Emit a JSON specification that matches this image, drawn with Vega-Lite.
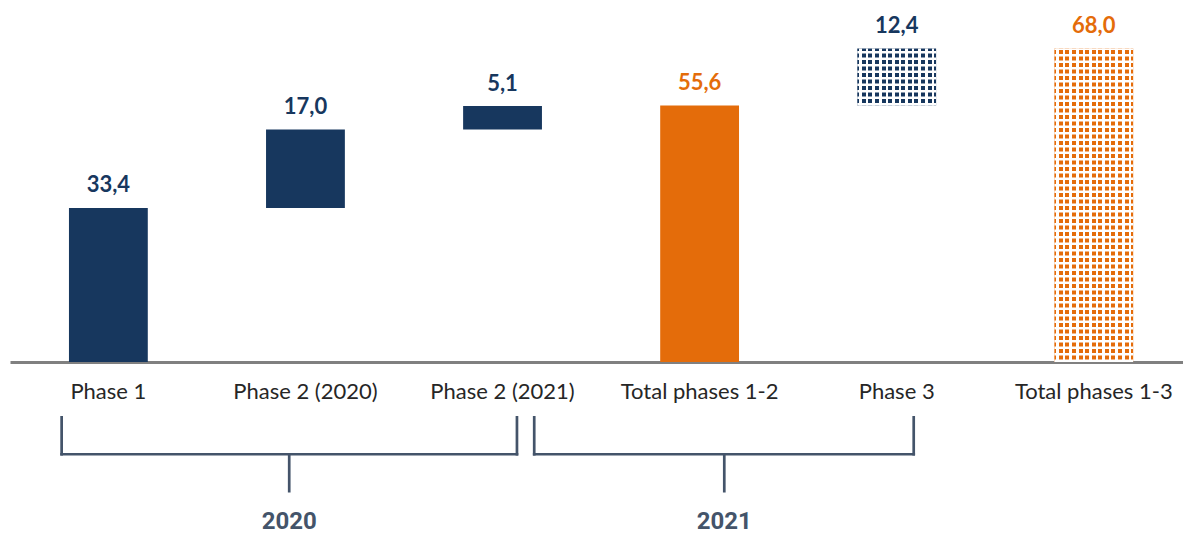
{
  "$schema": "https://vega.github.io/schema/vega-lite/v6.json",
  "width": 1173,
  "height": 362,
  "autosize": {"type": "none"},
  "padding": {"left": 10, "top": 0, "right": 0, "bottom": 172},
  "background": "#ffffff",
  "config": {"view": {"stroke": null}},
  "layer": [
    {
      "data": {
        "values": [
          {"phase": "Phase 1", "start": 0, "end": 33.4, "label": "33,4", "type": "Increment", "status": "committed"},
          {"phase": "Phase 2 (2020)", "start": 33.4, "end": 50.4, "label": "17,0", "type": "Increment", "status": "committed"},
          {"phase": "Phase 2 (2021)", "start": 50.4, "end": 55.5, "label": "5,1", "type": "Increment", "status": "committed"},
          {"phase": "Total phases 1-2", "start": 0, "end": 55.6, "label": "55,6", "type": "Total", "status": "committed"},
          {"phase": "Phase 3", "start": 55.6, "end": 68.0, "label": "12,4", "type": "Increment", "status": "planned"},
          {"phase": "Total phases 1-3", "start": 0, "end": 68.0, "label": "68,0", "type": "Total", "status": "planned"}
        ]
      },
      "encoding": {
        "x": {
          "field": "phase",
          "type": "nominal",
          "sort": null,
          "title": null,
          "scale": {
            "domain": ["Phase 1", "Phase 2 (2020)", "Phase 2 (2021)", "Total phases 1-2", "Phase 3", "Total phases 1-3"],
            "paddingInner": 0.6,
            "paddingOuter": 0.276,
            "align": 0.542
          },
          "axis": {
            "title": null,
            "ticks": false,
            "tickSize": 0,
            "labelAngle": 0,
            "labelFont": "Lato",
            "labelFontSize": 22,
            "labelColor": "#262626",
            "labelBaseline": "alphabetic",
            "labelPadding": 36,
            "domainColor": "#808080",
            "domainWidth": 3,
            "grid": false
          }
        }
      },
      "layer": [
        {
          "mark": {"type": "bar"},
          "encoding": {
            "y": {"field": "start", "type": "quantitative", "scale": {"domain": [0, 78.5], "nice": false, "zero": false}, "axis": null},
            "y2": {"field": "end"},
            "color": {"field": "type", "type": "nominal", "scale": {"domain": ["Increment", "Total"], "range": ["#17375E", "#E46C0A"]}, "legend": null}
          }
        },
        {
          "transform": [{"filter": "datum.status === 'planned'"}],
          "mark": {
            "type": "bar",
            "fill": {
              "gradient": "linear",
              "x1": 0, "y1": 0, "x2": 1, "y2": 0,
              "stops": [
                {"offset": 0, "color": "rgba(255,255,255,0)"},
                {"offset": 0.0252, "color": "rgba(255,255,255,0)"}, {"offset": 0.0252, "color": "#ffffff"}, {"offset": 0.0582, "color": "#ffffff"}, {"offset": 0.0582, "color": "rgba(255,255,255,0)"},
                {"offset": 0.1085, "color": "rgba(255,255,255,0)"}, {"offset": 0.1085, "color": "#ffffff"}, {"offset": 0.1415, "color": "#ffffff"}, {"offset": 0.1415, "color": "rgba(255,255,255,0)"},
                {"offset": 0.1919, "color": "rgba(255,255,255,0)"}, {"offset": 0.1919, "color": "#ffffff"}, {"offset": 0.2249, "color": "#ffffff"}, {"offset": 0.2249, "color": "rgba(255,255,255,0)"},
                {"offset": 0.2752, "color": "rgba(255,255,255,0)"}, {"offset": 0.2752, "color": "#ffffff"}, {"offset": 0.3082, "color": "#ffffff"}, {"offset": 0.3082, "color": "rgba(255,255,255,0)"},
                {"offset": 0.3585, "color": "rgba(255,255,255,0)"}, {"offset": 0.3585, "color": "#ffffff"}, {"offset": 0.3915, "color": "#ffffff"}, {"offset": 0.3915, "color": "rgba(255,255,255,0)"},
                {"offset": 0.4419, "color": "rgba(255,255,255,0)"}, {"offset": 0.4419, "color": "#ffffff"}, {"offset": 0.4749, "color": "#ffffff"}, {"offset": 0.4749, "color": "rgba(255,255,255,0)"},
                {"offset": 0.5252, "color": "rgba(255,255,255,0)"}, {"offset": 0.5252, "color": "#ffffff"}, {"offset": 0.5582, "color": "#ffffff"}, {"offset": 0.5582, "color": "rgba(255,255,255,0)"},
                {"offset": 0.6085, "color": "rgba(255,255,255,0)"}, {"offset": 0.6085, "color": "#ffffff"}, {"offset": 0.6415, "color": "#ffffff"}, {"offset": 0.6415, "color": "rgba(255,255,255,0)"},
                {"offset": 0.6919, "color": "rgba(255,255,255,0)"}, {"offset": 0.6919, "color": "#ffffff"}, {"offset": 0.7249, "color": "#ffffff"}, {"offset": 0.7249, "color": "rgba(255,255,255,0)"},
                {"offset": 0.7752, "color": "rgba(255,255,255,0)"}, {"offset": 0.7752, "color": "#ffffff"}, {"offset": 0.8082, "color": "#ffffff"}, {"offset": 0.8082, "color": "rgba(255,255,255,0)"},
                {"offset": 0.8585, "color": "rgba(255,255,255,0)"}, {"offset": 0.8585, "color": "#ffffff"}, {"offset": 0.8915, "color": "#ffffff"}, {"offset": 0.8915, "color": "rgba(255,255,255,0)"},
                {"offset": 0.9419, "color": "rgba(255,255,255,0)"}, {"offset": 0.9419, "color": "#ffffff"}, {"offset": 0.9749, "color": "#ffffff"}, {"offset": 0.9749, "color": "rgba(255,255,255,0)"},
                {"offset": 1, "color": "rgba(255,255,255,0)"}
              ]
            }
          },
          "encoding": {
            "y": {"field": "start", "type": "quantitative", "scale": {"domain": [0, 78.5], "nice": false, "zero": false}},
            "y2": {"field": "end"}
          }
        },
        {
          "transform": [{"filter": "datum.status === 'planned'"}],
          "mark": {"type": "rule", "stroke": "#ffffff", "strokeWidth": 78.8, "strokeDash": [2.6, 3.9], "strokeCap": "butt"},
          "encoding": {
            "y": {"field": "start", "type": "quantitative", "scale": {"domain": [0, 78.5], "nice": false, "zero": false}},
            "y2": {"field": "end"}
          }
        },
        {
          "mark": {"type": "text", "font": "Lato", "fontSize": 22, "fontWeight": "bold", "baseline": "alphabetic", "align": "center", "dy": -15.5},
          "encoding": {
            "y": {"field": "end", "type": "quantitative", "scale": {"domain": [0, 78.5], "nice": false, "zero": false}},
            "text": {"field": "label"},
            "color": {"field": "type", "type": "nominal", "legend": null}
          }
        }
      ]
    },
    {
      "data": {"values": [{"year": "2020", "first": "Phase 1", "middle": "Phase 2 (2020)", "last": "Phase 2 (2021)"}]},
      "layer": [
        {
          "mark": {"type": "rule", "stroke": "#44546A", "strokeWidth": 2.7, "strokeCap": "square"},
          "encoding": {
            "x": {"field": "first", "type": "nominal", "bandPosition": -0.093, "title": null},
            "x2": {"field": "last", "bandPosition": 0.683},
            "y": {"datum": -20}
          }
        },
        {
          "mark": {"type": "rule", "stroke": "#44546A", "strokeWidth": 2.7, "strokeCap": "square"},
          "encoding": {
            "x": {"field": "first", "type": "nominal", "bandPosition": -0.093, "title": null},
            "y": {"datum": -12},
            "y2": {"datum": -20}
          }
        },
        {
          "mark": {"type": "rule", "stroke": "#44546A", "strokeWidth": 2.7, "strokeCap": "square"},
          "encoding": {
            "x": {"field": "last", "type": "nominal", "bandPosition": 0.683, "title": null},
            "y": {"datum": -12},
            "y2": {"datum": -20}
          }
        },
        {
          "mark": {"type": "rule", "stroke": "#44546A", "strokeWidth": 2.7, "strokeCap": "butt"},
          "encoding": {
            "x": {"field": "middle", "type": "nominal", "bandPosition": 0.294, "title": null},
            "y": {"datum": -20},
            "y2": {"datum": -28.3}
          }
        },
        {
          "mark": {"type": "text", "font": "Roboto", "fontSize": 24, "fontWeight": "bold", "fill": "#44546A", "baseline": "middle", "align": "center"},
          "encoding": {
            "x": {"field": "middle", "type": "nominal", "bandPosition": 0.294, "title": null},
            "y": {"datum": -34.7},
            "text": {"field": "year"}
          }
        }
      ]
    },
    {
      "data": {"values": [{"year": "2021", "first": "Phase 2 (2021)", "middle": "Total phases 1-2", "last": "Phase 3"}]},
      "layer": [
        {
          "mark": {"type": "rule", "stroke": "#44546A", "strokeWidth": 2.7, "strokeCap": "square"},
          "encoding": {
            "x": {"field": "first", "type": "nominal", "bandPosition": 0.902, "title": null},
            "x2": {"field": "last", "bandPosition": 0.716},
            "y": {"datum": -20}
          }
        },
        {
          "mark": {"type": "rule", "stroke": "#44546A", "strokeWidth": 2.7, "strokeCap": "square"},
          "encoding": {
            "x": {"field": "first", "type": "nominal", "bandPosition": 0.902, "title": null},
            "y": {"datum": -12},
            "y2": {"datum": -20}
          }
        },
        {
          "mark": {"type": "rule", "stroke": "#44546A", "strokeWidth": 2.7, "strokeCap": "square"},
          "encoding": {
            "x": {"field": "last", "type": "nominal", "bandPosition": 0.716, "title": null},
            "y": {"datum": -12},
            "y2": {"datum": -20}
          }
        },
        {
          "mark": {"type": "rule", "stroke": "#44546A", "strokeWidth": 2.7, "strokeCap": "butt"},
          "encoding": {
            "x": {"field": "middle", "type": "nominal", "bandPosition": 0.813, "title": null},
            "y": {"datum": -20},
            "y2": {"datum": -28.3}
          }
        },
        {
          "mark": {"type": "text", "font": "Roboto", "fontSize": 24, "fontWeight": "bold", "fill": "#44546A", "baseline": "middle", "align": "center"},
          "encoding": {
            "x": {"field": "middle", "type": "nominal", "bandPosition": 0.813, "title": null},
            "y": {"datum": -34.7},
            "text": {"field": "year"}
          }
        }
      ]
    }
  ]
}
